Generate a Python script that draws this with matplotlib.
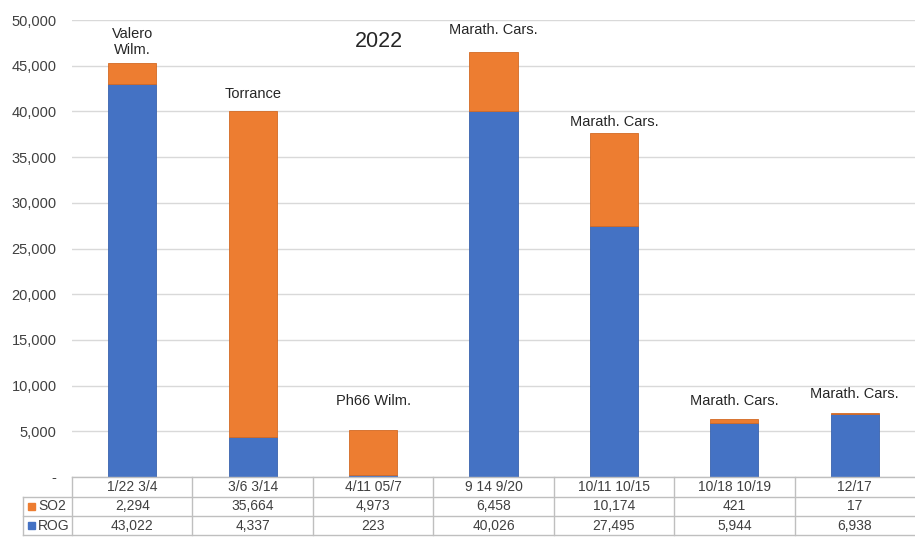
import matplotlib.pyplot as plt
import numpy as np

# data
periods = ["1/22 3/4", "3/6 3/14", "4/11 05/7", "9 14 9/20", "10/11 10/15", "10/18 10/19", "12/17"]
refinery = ["Valero\nWilm.", "Torrance", "Ph66 Wilm.", "Marath. Cars.", "Marath. Cars.", "Marath. Cars.", "Marath. Cars."]
so2 = [2294, 35664, 4973, 6458, 10174, 421, 17]
rog = [43022, 4337, 223, 40026, 27495, 5944, 6938]

# where the refinery names sit (data units, bottom of text)
label_y = [46000, 41100, 7500, 48100, 38100, 7500, 8300]

BLUE = "#4472C4"
ORANGE = "#ED7D31"
TXT = "#404040"
GRID = "#D9D9D9"

plt.rcParams['font.family'] = ['Liberation Sans', 'DejaVu Sans']

W, H = 915, 540
fig = plt.figure(figsize=(W / 100, H / 100), dpi=100)
x0, x1, ytop, ybot = 72, 915, 20, 477
ax = fig.add_axes([x0 / W, 1 - ybot / H, (x1 - x0) / W, (ybot - ytop) / H])

x = np.arange(len(periods))
so2 = np.array(so2)
rog = np.array(rog)
ax.bar(x, rog, width=0.4, color=BLUE, edgecolor="#3A63AD", linewidth=0.6, zorder=3)
ax.bar(x, so2, width=0.4, bottom=rog, color=ORANGE, edgecolor="#D36A24", linewidth=0.6, zorder=3)

for xi, name, ly in zip(x, refinery, label_y):
    ax.text(xi, ly, name, ha='center', va='bottom', fontsize=10.5, color="#262626",
            linespacing=1.15, zorder=4)

ax.text(2.05, 47600, "2022", ha='center', va='center', fontsize=15.5, color="#262626")

ax.set_xlim(-0.5, len(periods) - 0.5)
ax.set_ylim(0, 50000)
ticks = np.arange(0, 50001, 5000)
ax.set_yticks(ticks)
ax.set_yticklabels(["-"] + [f"{t:,}" for t in ticks[1:]])
ax.tick_params(axis='y', length=0, labelsize=10.5, labelcolor=TXT, pad=11)
ax.set_xticks([])
ax.grid(axis='y', color=GRID, linewidth=1, zorder=0)
for s in ax.spines.values():
    s.set_visible(False)

# data table below the plot, drawn in figure pixels
def fy(py):
    return 1 - py / H

def fx(px):
    return px / W

col_w = (x1 - x0) / len(periods)
line_kw = dict(color="#BFBFBF", linewidth=1, transform=fig.transFigure)
# horizontal lines
fig.add_artist(plt.Line2D([fx(x0), fx(x1)], [fy(477), fy(477)], **line_kw))
for py in [497, 516, 535]:
    fig.add_artist(plt.Line2D([fx(23), fx(x1)], [fy(py), fy(py)], **line_kw))
# vertical lines
fig.add_artist(plt.Line2D([fx(23), fx(23)], [fy(497), fy(535)], **line_kw))
for k in range(len(periods)):
    px = x0 + k * col_w
    fig.add_artist(plt.Line2D([fx(px), fx(px)], [fy(477), fy(535)], **line_kw))

for k, (p, s, r) in enumerate(zip(periods, so2, rog)):
    cx = fx(x0 + (k + 0.5) * col_w)
    fig.text(cx, fy(487), p, ha='center', va='center', fontsize=10, color=TXT)
    fig.text(cx, fy(506.5), f"{s:,}", ha='center', va='center', fontsize=10, color=TXT)
    fig.text(cx, fy(525.5), f"{r:,}", ha='center', va='center', fontsize=10, color=TXT)

for py, name, col in [(506.5, "SO2", ORANGE), (525.5, "ROG", BLUE)]:
    fig.patches.append(plt.Rectangle((fx(28), fy(py + 3.5)), 7 / W, 7 / H,
                                     color=col, transform=fig.transFigure))
    fig.text(fx(38), fy(py), name, ha='left', va='center', fontsize=10, color=TXT)

fig.savefig("out.png", dpi=100)
